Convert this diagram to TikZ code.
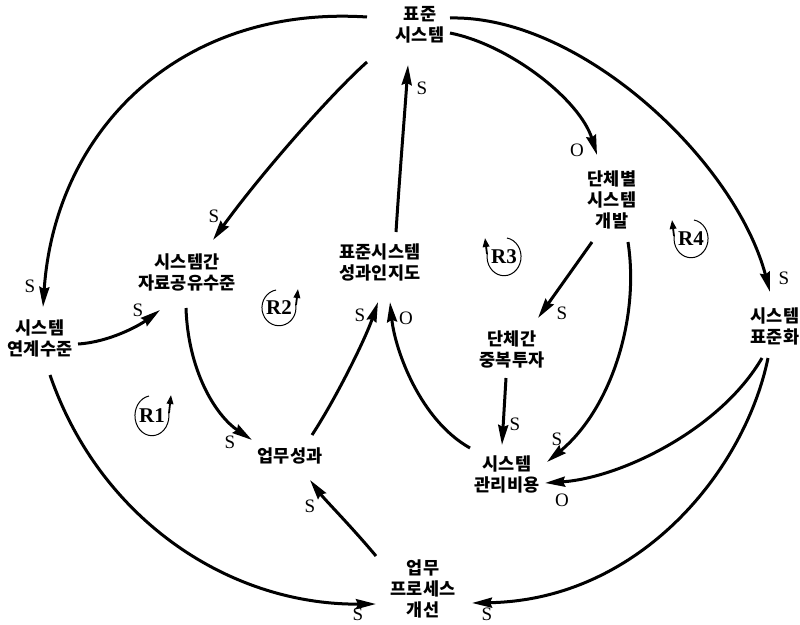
\documentclass[tikz,border=0pt]{standalone}
\usepackage{fontspec}
\setmainfont{Liberation Serif}
\newfontfamily\kr{Noto Sans CJK KR}
\usetikzlibrary{arrows.meta}
\begin{document}
\begin{tikzpicture}[x=1pt,y=-1pt,
  var/.style={font=\kr\bfseries\fontsize{17.5}{21}\selectfont, align=center, inner sep=0pt},
  lnk/.style={line width=3pt, -{Stealth[length=20pt,width=10pt,inset=2pt]}},
  pol/.style={font=\fontsize{19}{19}\selectfont, inner sep=0pt},
  loopline/.style={line width=1pt},
  looptip/.style={line width=1.8pt, -{Triangle[length=9pt,width=6.5pt]}},
  rl/.style={font=\bfseries\fontsize{21}{21}\selectfont, inner sep=0pt}]
\useasboundingbox (0,0) rectangle (800,624);

% variables
\node[var] (std)   at (420,25)  {표준\\시스템};
\node[var] (dev)   at (612,200) {단체별\\시스템\\개발};
\node[var] (share) at (187,272) {시스템간\\자료공유수준};
\node[var] (perc)  at (380,262) {표준시스템\\성과인지도};
\node[var] (link)  at (40,338)  {시스템\\연계수준};
\node[var] (stdz)  at (775,326) {시스템\\표준화};
\node[var] (dup)   at (512,349) {단체간\\중복투자};
\node[var] (perf)  at (290,456) {업무성과};
\node[var] (cost)  at (507,474) {시스템\\관리비용};
\node[var] (proc)  at (423,589) {업무\\프로세스\\개선};

% links
\draw[lnk] ([shift={(-53,-8)}]std.center) .. controls (180,5) and (55,130) .. ([shift={(3,-31)}]link.center);
\draw[lnk] ([shift={(-53,37)}]std.center) .. controls (330,95) and (260,175) .. ([shift={(26,-32)}]share.center);
\draw[lnk] ([shift={(30,8)}]std.center) .. controls (510,45) and (580,100) .. ([shift={(-15,-45)}]dev.center);
\draw[lnk] ([shift={(30,-7)}]std.center) .. controls (580,15) and (735,160) .. ([shift={(-5,-34)}]stdz.center);
\draw[lnk] ([shift={(16,-30)}]perc.center) .. controls (400,170) and (405,110) .. ([shift={(-12,40)}]std.center);
\draw[lnk] ([shift={(38,6)}]link.center) .. controls (110,342) and (140,325) .. ([shift={(-27,38)}]share.center);
\draw[lnk] ([shift={(-1,36)}]share.center) .. controls (188,370) and (215,415) .. ([shift={(-38,-16)}]perf.center);
\draw[lnk] ([shift={(22,-21)}]perf.center) .. controls (335,400) and (365,340) .. ([shift={(-2,40)}]perc.center);
\draw[lnk] ([shift={(-37,-26)}]cost.center) .. controls (420,420) and (395,350) .. ([shift={(10,40)}]perc.center);
\draw[lnk] ([shift={(-20,42)}]dev.center) -- ([shift={(26,-31)}]dup.center);
\draw[lnk] ([shift={(16,42)}]dev.center) .. controls (640,320) and (610,410) .. ([shift={(40,-12)}]cost.center);
\draw[lnk] ([shift={(-6,29)}]dup.center) -- ([shift={(-5,-29)}]cost.center);
\draw[lnk] ([shift={(-13,32)}]stdz.center) .. controls (720,430) and (620,478) .. ([shift={(38,9)}]cost.center);
\draw[lnk] ([shift={(-7,32)}]stdz.center) .. controls (745,470) and (640,600) .. ([shift={(49,14)}]proc.center);
\draw[lnk] ([shift={(10,37)}]link.center) .. controls (100,520) and (230,605) .. ([shift={(-47,15)}]proc.center);
\draw[lnk] ([shift={(-47,-33)}]proc.center) .. controls (350,525) and (325,500) .. ([shift={(20,24)}]perf.center);

% polarity labels
\node[pol] (p1)  at (30,286)  {S};
\node[pol] (p2)  at (214,216) {S};
\node[pol] (p3)  at (577,150) {O};
\node[pol] (p4)  at (784,278) {S};
\node[pol] (p5)  at (422,88)  {S};
\node[pol] (p6)  at (138,310) {S};
\node[pol] (p7)  at (230,442) {S};
\node[pol] (p8)  at (360,315) {S};
\node[pol] (p9)  at (406,318) {O};
\node[pol] (p10) at (562,313) {S};
\node[pol] (p11) at (557,439) {S};
\node[pol] (p12) at (515,424) {S};
\node[pol] (p13) at (562,500) {O};
\node[pol] (p14) at (487,614) {S};
\node[pol] (p15) at (358,614) {S};
\node[pol] (p16) at (310,506) {S};

% loop markers
\node[rl] (r1) at (152,416) {R1};
\draw[loopline] ([shift={(-3,-20)}]r1.center) arc[start angle=-100, end angle=-370, x radius=17, y radius=20];
\draw[looptip] ([shift={(17,-3)}]r1.center) -- ([shift={(19,-21)}]r1.center);

\node[rl] (r2) at (279,308) {R2};
\draw[loopline] ([shift={(-3,-18)}]r2.center) arc[start angle=-100, end angle=-370, x radius=17, y radius=18];
\draw[looptip] ([shift={(17,-3)}]r2.center) -- ([shift={(19,-19)}]r2.center);

\node[rl] (r3) at (504,257) {R3};
\draw[loopline] ([shift={(3,-19)}]r3.center) arc[start angle=-80, end angle=190, x radius=17, y radius=19];
\draw[looptip] ([shift={(-17,-3)}]r3.center) -- ([shift={(-19,-19)}]r3.center);

\node[rl] (r4) at (691,239) {R4};
\draw[loopline] ([shift={(3,-19)}]r4.center) arc[start angle=-80, end angle=190, x radius=17, y radius=19];
\draw[looptip] ([shift={(-17,-3)}]r4.center) -- ([shift={(-19,-19)}]r4.center);
\end{tikzpicture}
\end{document}
